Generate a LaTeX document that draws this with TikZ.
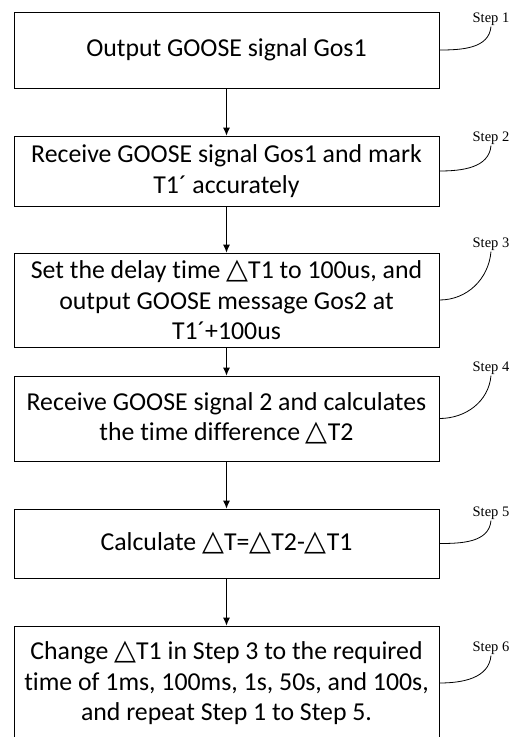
\documentclass[tikz,border=0pt]{standalone}
\usepackage{fontspec}
\setmainfont{Carlito}[Ligatures=NoCommon]
\newfontfamily\symfont{DejaVu Sans}
\newfontfamily\stepfont{Liberation Serif}
\newcommand{\tri}{{\symfont\fontsize{28.5}{30.5}\selectfont\char"25B3}}
\usetikzlibrary{arrows.meta}

\tikzset{
  stepbox/.style={draw, line width=0.8pt, minimum width=425pt, align=center,
    inner sep=0pt, font=\fontsize{25.8}{30.5}\selectfont},
  steplabel/.style={font=\stepfont\fontsize{14.5}{16}\selectfont, inner sep=1pt},
  flow/.style={-{Latex[length=8pt,width=7pt]}, line width=0.9pt},
  hook/.style={line width=0.8pt, out=0, in=-95},
}

\begin{document}
\begin{tikzpicture}[x=1pt, y=-1pt]
  \useasboundingbox (0,0) rectangle (515,737);

  % boxes
  \node [stepbox, minimum height=76pt](b1) at (226.5,50) {Output GOOSE signal Gos1};
  \node [stepbox, minimum height=70pt](b2) at (226.5,171) {Receive GOOSE signal Gos1 and mark\\T1´ accurately};
  \node [stepbox, minimum height=94pt](b3) at (226.5,300) {Set the delay time \tri T1 to 100us, and\\output GOOSE message Gos2 at\\T1´+100us};
  \node [stepbox, minimum height=85pt](b4) at (226.5,418.5) {Receive GOOSE signal 2 and calculates\\the time difference \tri T2};
  \node [stepbox, minimum height=69pt](b5) at (226.5,543.5) {Calculate \tri T=\tri T2-\tri T1};
  \node [stepbox, minimum height=114pt](b6) at (226.5,683) {Change \tri T1 in Step 3 to the required\\time of 1ms, 100ms, 1s, 50s, and 100s,\\and repeat Step 1 to Step 5.};

  % step labels
  \node [steplabel](s1) at (491,19) {Step 1};
  \node [steplabel](s2) at (491,138) {Step 2};
  \node [steplabel](s3) at (491,244) {Step 3};
  \node [steplabel](s4) at (491,368) {Step 4};
  \node [steplabel](s5) at (491,513) {Step 5};
  \node [steplabel](s6) at (491,648) {Step 6};

  % flow arrows
  \draw [flow] (b1) -- (b2);
  \draw [flow] (b2) -- (b3);
  \draw [flow] (b3) -- (b4);
  \draw [flow] (b4) -- (b5);
  \draw [flow] (b5) -- (b6);

  % label leaders
  \draw [hook] (b1.east) to (s1.south);
  \draw [hook] (b2.east) to (s2.south);
  \draw [hook] (b3.east) to (s3.south);
  \draw [hook] (b4.east) to (s4.south);
  \draw [hook] (b5.east) to (s5.south);
  \draw [hook] (b6.east) to (s6.south);
\end{tikzpicture}
\end{document}
